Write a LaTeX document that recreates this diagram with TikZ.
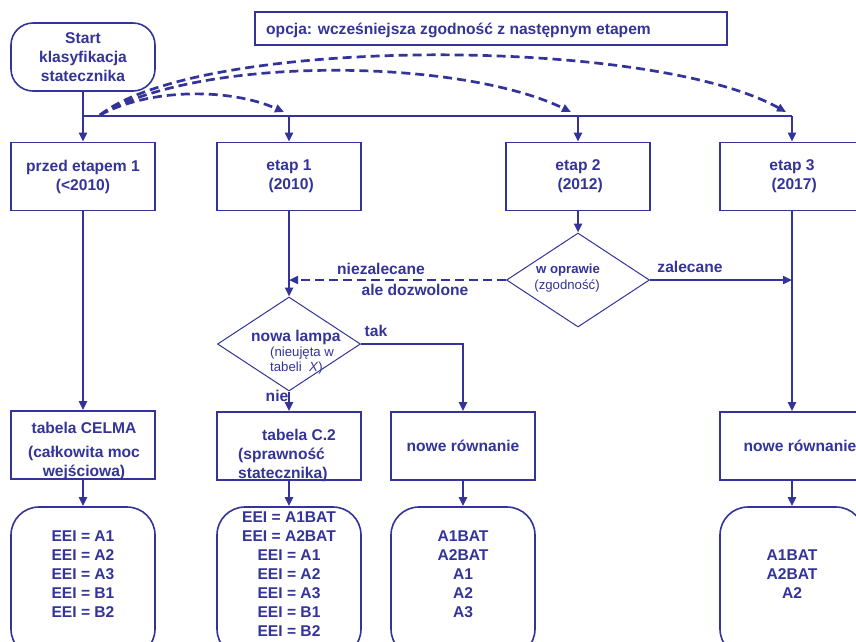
\documentclass[tikz,border=0pt]{standalone}
\usepackage{fontspec}
\setmainfont{Liberation Sans}
\usetikzlibrary{shapes.geometric,arrows.meta}
\definecolor{mb}{RGB}{51,51,153}
\begin{document}
\begin{tikzpicture}[x=1pt,y=-1pt,
  every node/.style={text=mb, font=\fontsize{15.6}{19}\selectfont\bfseries, inner sep=0pt},
  box/.style={draw=mb, line width=1.6pt, rectangle, minimum width=144pt, minimum height=68pt},
  rbox/.style={box, rounded corners=28pt},
  dia/.style={draw=mb, line width=1pt, diamond, minimum width=143pt, minimum height=94pt},
  conn/.style={draw=mb, line width=2.7pt},
  arr/.style={conn, -{Triangle[length=9pt,width=8pt]}},
  darr/.style={arr, dash pattern=on 9pt off 5pt},
  small/.style={font=\fontsize{13.2}{15}\selectfont},
  smallb/.style={font=\fontsize{13.2}{15}\selectfont\bfseries},
]
\useasboundingbox (0,0) rectangle (856,641);

% start and option
\node[box, rounded corners=22pt, align=center] (start) at (83,57) {Start\\klasyfikacja\\statecznika};
\node[draw=mb, line width=1.2pt, minimum width=472pt, minimum height=33pt] (opt) at (491,28.5) {};
\node[anchor=west] (optt) at (266,30) {opcja: wcześniejsza zgodność z następnym etapem};

% stage boxes
\node[box, align=center] (p0) at (83,176.5) {przed etapem 1\\(<2010)};
\node[box, align=center] (p1) at (289,176.5) {etap 1\\\ (2010)};
\node[box, align=center] (p2) at (578,176.5) {etap 2\\\ (2012)};
\node[box, align=center] (p3) at (792,176.5) {etap 3\\\ (2017)};

% bus
\coordinate (b0) at (83,116);
\coordinate (b1) at (289,116);
\coordinate (b2) at (578,116);
\coordinate (b3) at (792,116);
\draw[conn] (start.south) -- (b0) -- (b3);
\draw[arr] (b0) -- (p0.north);
\draw[arr] (b1) -- (p1.north);
\draw[arr] (b2) -- (p2.north);
\draw[arr] (b3) -- (p3.north);

% dashed option curves
\coordinate (cs) at (100,115);
\coordinate (e1) at (284,112);
\coordinate (e2) at (571,112);
\coordinate (e3) at (786,112);
\draw[darr] (cs) .. controls (150,88) and (230,88) .. (e1);
\draw[darr] (cs) .. controls (200,55) and (460,58) .. (e2);
\draw[darr] (cs) .. controls (200,36) and (650,36) .. (e3);

% diamonds
\node[dia] (wo) at (578,280) {};
\node[smallb] (wot) at (568,270) {w oprawie};
\node[small] (wos) at (567,286) {(zgodność)};
\node[dia] (nl) at (289,344) {};
\node[anchor=west] (nlt) at (251,337) {nowa lampa};
\node[small, anchor=west, align=left] (nls) at (270,361) {(nieujęta w\\tabeli\ \ \textit{X})};

\draw[arr] (p2.south) -- (wo.north);
\draw[arr] (p1.south) -- (nl.north);
\coordinate (j1) at (289,280);
\coordinate (j3) at (792,280);
\draw[darr, line width=2.2pt] (wo.west) -- (j1);
\draw[arr, line width=2.2pt] (wo.east) -- (j3);
\node (lnz) at (381,269) {niezalecane};
\node (lad) at (415,290) {ale dozwolone};
\node (lza) at (690,267) {zalecane};

% second row
\node[box] (q0) at (83,445) {};
\node[box] (q1) at (289,446) {};
\node[box] (q2) at (463,446) {nowe równanie};
\node[box] (q3) at (792,446) {};
\node[align=center] (q0t) at (84,451) {tabela CELMA\\[5pt](całkowita moc\\wejściowa)};
\node[anchor=west, align=left] (q1t) at (238,455) {\hspace*{24pt}tabela C.2\\(sprawność\\statecznika)};
\node (q3t) at (800,446) {nowe równanie};

\draw[arr] (p0.south) -- (q0.north);
\draw[arr] (p3.south) -- (q3.north);
\draw[arr] (nl.east) -| (q2.north);
\draw[arr] (nl.south) -- (q1.north);
\node (ltak) at (376,331) {tak};
\node (lnie) at (277,396) {nie};

% result boxes
\node[rbox, minimum height=150pt] (r0) at (83,582) {};
\node[rbox, minimum height=150pt] (r1) at (289,582) {};
\node[rbox, minimum height=150pt] (r2) at (463,582) {};
\node[rbox, minimum height=150pt] (r3) at (792,582) {};
\draw[arr] (q0.south) -- (r0.north);
\draw[arr] (q1.south) -- (r1.north);
\draw[arr] (q2.south) -- (r2.north);
\draw[arr] (q3.south) -- (r3.north);

\node[align=center] (r0t) at (83,574) {EEI = A1\\EEI = A2\\EEI = A3\\EEI = B1\\EEI = B2};
\node[align=center] (r1t) at (289,574) {EEI = A1BAT\\EEI = A2BAT\\EEI = A1\\EEI = A2\\EEI = A3\\EEI = B1\\EEI = B2};
\node[align=center] (r2t) at (463,574) {A1BAT\\A2BAT\\A1\\A2\\A3};
\node[align=center] (r3t) at (792,574) {A1BAT\\A2BAT\\A2};
\end{tikzpicture}
\end{document}
